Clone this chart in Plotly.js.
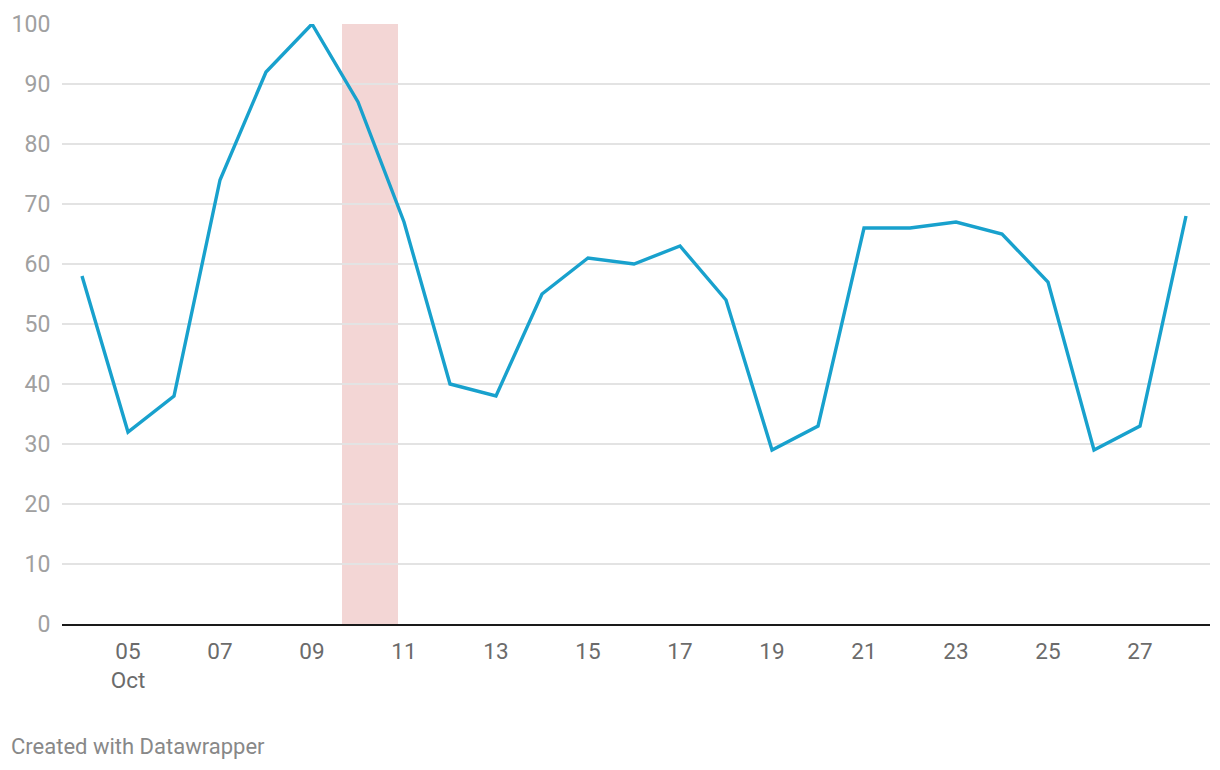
<!DOCTYPE html>
<html>
<head>
<meta charset="utf-8">
<script src="https://cdn.plot.ly/plotly-3.0.1.min.js"></script>
<style>
html,body{margin:0;padding:0;background:#fff;}
#chart{width:1220px;height:770px;}
</style>
</head>
<body>
<div id="chart"></div>
<script>
const dates = ['2023-10-04','2023-10-05','2023-10-06','2023-10-07','2023-10-08','2023-10-09','2023-10-10','2023-10-11','2023-10-12','2023-10-13','2023-10-14','2023-10-15','2023-10-16','2023-10-17','2023-10-18','2023-10-19','2023-10-20','2023-10-21','2023-10-22','2023-10-23','2023-10-24','2023-10-25','2023-10-26','2023-10-27','2023-10-28'];
const values = [58,32,38,74,92,100,87,67,40,38,55,61,60,63,54,29,33,66,66,67,65,57,29,33,68];
const tickDates = ['2023-10-05','2023-10-07','2023-10-09','2023-10-11','2023-10-13','2023-10-15','2023-10-17','2023-10-19','2023-10-21','2023-10-23','2023-10-25','2023-10-27'];
const tickLabels = ['05<br>Oct','07','09','11','13','15','17','19','21','23','25','27'];
const yTicks = [0,10,20,30,40,50,60,70,80,90,100];
const bandRange = ['2023-10-09 15:39','2023-10-10 20:52'];
const xRange = ['2023-10-03 13:34','2023-10-28 12:31'];

const trace = {
  x: dates, y: values, type: 'scatter', mode: 'lines',
  line: {color: '#18a1cd', width: 3.4},
  cliponaxis: false, hoverinfo: 'x+y'
};

const layout = {
  width: 1220, height: 770,
  margin: {l: 62, r: 10, t: 24, b: 146},
  paper_bgcolor: '#fff', plot_bgcolor: '#fff',
  font: {family: 'Roboto, sans-serif'},
  showlegend: false,
  xaxis: {
    type: 'date', range: xRange,
    tickvals: tickDates, ticktext: tickLabels,
    showgrid: false, zeroline: false,
    showline: true, linecolor: '#1a1a1a', linewidth: 2,
    ticks: 'outside', ticklen: 6, tickcolor: 'rgba(0,0,0,0)',
    tickfont: {size: 22.5, color: '#6b6b6b', family: 'Roboto, sans-serif'}
  },
  yaxis: {
    range: [0, 100], tickvals: yTicks,
    showgrid: true, gridcolor: '#e3e3e3', gridwidth: 1.5,
    zeroline: false, showline: false,
    ticks: 'outside', ticklen: 6, tickcolor: 'rgba(0,0,0,0)',
    tickfont: {size: 23, color: '#a0a0a0', family: 'Roboto, sans-serif'}
  },
  shapes: [{
    type: 'rect', xref: 'x', yref: 'y',
    x0: bandRange[0], x1: bandRange[1], y0: 0, y1: 100,
    fillcolor: '#f3d6d5', line: {width: 0}, layer: 'below'
  }],
  annotations: [{
    text: 'Created with Datawrapper', xref: 'paper', yref: 'paper',
    x: 0, y: 0, xanchor: 'left', yanchor: 'middle',
    xshift: -53, yshift: -122, showarrow: false,
    font: {size: 22, color: '#888888', family: 'Roboto, sans-serif'}
  }]
};

Plotly.newPlot('chart', [trace], layout, {displayModeBar: false, staticPlot: true});
</script>
</body>
</html>
